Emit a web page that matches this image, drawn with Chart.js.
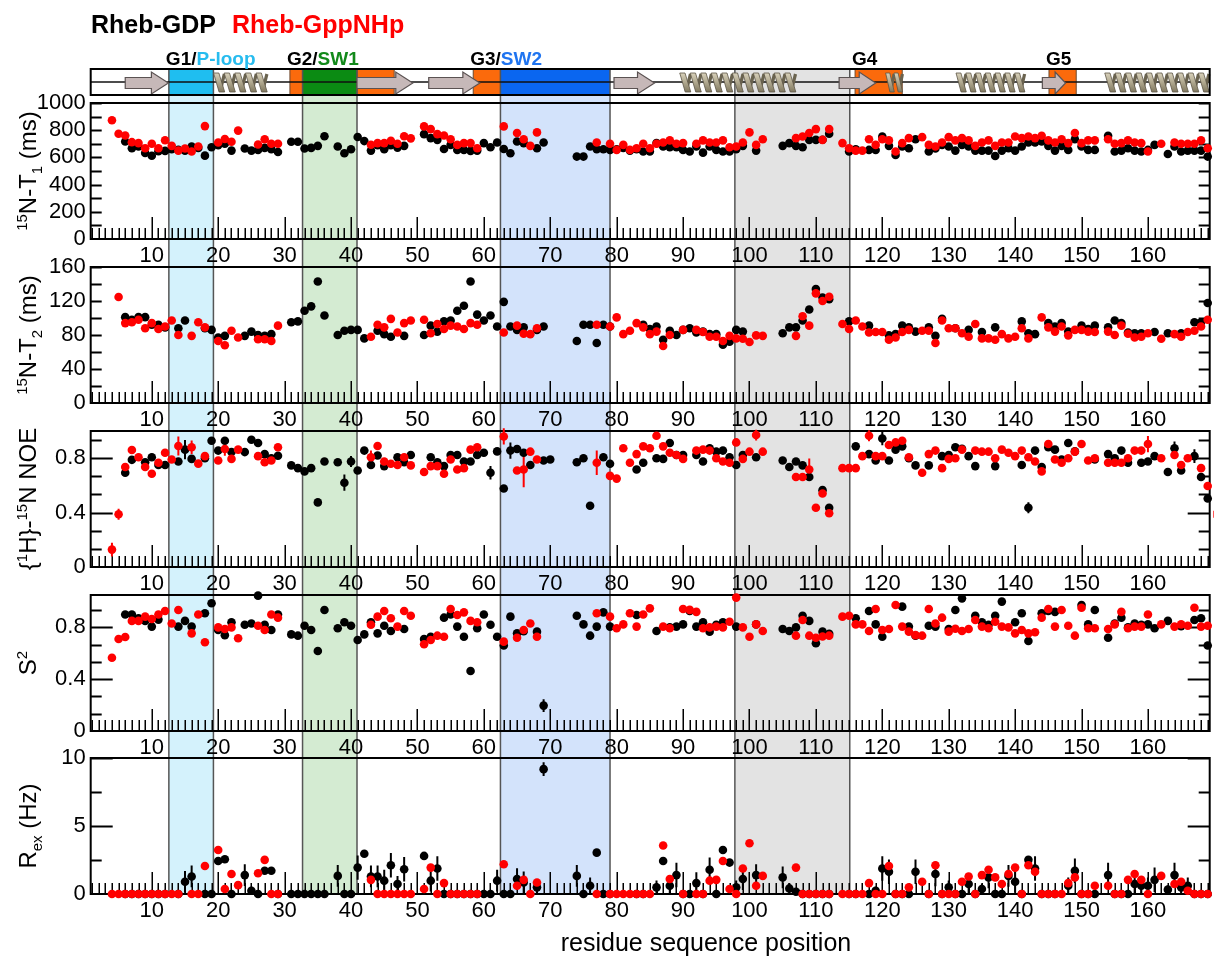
<!DOCTYPE html>
<html>
<head>
<meta charset="utf-8">
<title>Rheb backbone dynamics</title>
<script src="https://cdn.jsdelivr.net/npm/chart.js@4/dist/chart.umd.min.js"></script>
<style>
  html, body { margin:0; padding:0; background:#fff; }
  body { width:1214px; height:966px; position:relative; overflow:hidden;
         font-family:"Liberation Sans", Arial, Helvetica, sans-serif; color:#000; }
  canvas { position:absolute; left:0; }
  #bg { top:0; z-index:0; }
  .panel { z-index:1; }
  .txt { position:absolute; white-space:nowrap; z-index:2; }
  .legend { font-weight:bold; font-size:25px; line-height:25px; top:12px; }
  .ytitle { font-size:24px; line-height:24px; transform:translate(-50%,-50%) rotate(-90deg); }
  .ytitle sup, .ytitle sub { font-size:15px; line-height:0; }
  .glabel { font-weight:bold; font-size:19px; line-height:19px; top:49px; }
  .xtitle { font-size:25px; line-height:25px; transform:translateX(-50%); }
</style>
</head>
<body>
<canvas id="bg" width="1214" height="966"></canvas>
<div class="txt legend" style="left:91px">Rheb-GDP</div>
<div class="txt legend" style="left:232px;color:#ff0000">Rheb-GppNHp</div>
<div class="txt xtitle" style="left:706px;top:930px">residue sequence position</div>

<script>
const _ = null;

// values per residue, index 0 = residue 1
const T1_GDP = [
 _,_,_,_,_,717,667,680,632,612,
 645,648,660,655,650,680,670,613,675,690,
 700,650,_,665,650,655,670,660,640,_,
 715,715,665,670,685,755,_,680,630,660,
 750,720,650,690,660,690,672,685,_,_,
 771,742,729,662,692,655,655,648,650,705,
 675,710,662,630,717,705,_,667,710,_,
 _,_,_,606,606,680,660,660,655,660,
 670,650,660,643,643,705,680,675,675,655,
 643,680,635,680,655,643,643,660,685,_,
 650,_,_,_,685,705,685,675,729,729,
 730,774,_,_,643,660,_,655,655,754,
 685,618,680,667,734,_,643,665,692,680,
 650,692,680,650,650,650,610,650,667,650,
 680,710,710,717,685,650,685,655,734,680,
 655,655,_,759,643,650,667,650,643,655,
 692,_,625,680,643,650,650,650,606,_
];
const T1_GPP = [
 _,_,_,873,774,761,712,705,667,700,
 667,726,685,650,665,643,680,830,_,710,
 735,715,797,_,_,695,733,700,700,_,
 _,_,_,_,_,_,_,_,_,_,
 _,_,693,705,705,722,700,755,740,_,
 828,808,771,761,734,692,705,705,667,_,
 _,_,828,_,779,734,685,784,_,_,
 _,_,_,_,_,_,710,_,700,655,
 692,655,667,700,667,700,710,725,700,705,
 _,700,725,710,710,725,675,680,710,784,
 692,734,_,_,_,_,742,754,779,808,
 729,808,_,705,667,650,650,734,692,734,
 725,643,705,742,_,749,692,680,710,749,
 725,742,725,685,710,725,685,710,710,754,
 742,754,742,759,725,710,734,705,779,705,
 725,725,_,734,700,705,725,710,705,643,
 _,700,_,710,700,700,700,725,667,_
];
const T2_GDP = [
 _,_,_,_,_,101,98,101,101,92,
 92,89,_,88,97,_,_,88,86,77,
 79,_,_,79,84,80,79,81,_,_,
 95,96,108.6,113.7,143,103,_,80,85,86,
 86,76,_,85,81,78,_,79,_,_,
 80,91,84,96,97,108.6,114.5,143,104,97,
 103,90,119,90,86,89,_,86,90,_,
 _,_,_,73,92,92,70.6,92,90,_,
 _,_,_,92,87,90,74.5,85,80,86,
 88,83,84,81,81,68.6,72,86,84,_,
 _,_,_,_,82,89,89,97,110,134,
 124,122,_,_,96,_,_,91,_,_,
 79.6,81,91,89,84,_,89,79,99,_,
 88,_,86,_,83.5,_,89,_,_,_,
 96,82,81,_,94,90,94,84,_,91,
 87,91,_,89,97,94,83,82,82,_,
 83.5,_,82,_,82,_,95,95,117.6,_
];
const T2_GPP = [
 _,_,_,_,124.7,94,95,98,88,94,
 87,90,97,80,_,79,95,89,_,73,
 68,85,77,_,_,75,75,73,91,_,
 _,_,_,_,_,_,_,_,_,_,
 _,_,78,92,89,99,83,94,97,_,
 98,82,93,87,91,90,87,94,92,_,
 _,_,83,_,91,81.5,81,88,_,_,
 _,_,_,_,_,_,92,_,90,100.7,
 81,85,94,89,81,84,67,80,_,86,
 _,86,83.5,78,78,73,79,76,75.6,71.7,
 79.6,79,_,_,_,_,79,102,91,129,
 120,125,_,93,87,97,90,83,83.5,83.5,
 74.5,77,83.5,86,_,85,85,70.6,97,88,
 88,82,78,93,76,76,74.5,81,76,78,
 88,76,_,100.7,89,84,90,79.6,86,86,
 84,83.5,_,84,80,91,81.5,77,78,82,
 _,75.6,_,81,78,83.5,85,90,98,_
];
const NOE_GDP = [
 _,_,_,_,_,0.693,0.788,_,0.77,0.807,
 0.75,0.75,_,0.776,0.863,0.795,_,0.80,0.928,0.856,
 0.928,0.845,_,0.845,0.936,0.912,0.83,0.80,0.818,_,
 0.747,0.727,0.703,0.727,0.475,0.776,_,0.77,0.62,0.776,
 0.71,0.856,0.75,0.82,0.742,_,0.807,0.77,0.824,_,
 _,0.807,0.77,0.742,0.824,0.824,0.776,0.776,0.824,0.84,
 0.693,0.85,0.577,0.856,0.868,0.84,0.75,_,0.783,0.79,
 _,_,_,0.77,0.80,0.45,_,0.807,0.759,_,
 _,_,0.717,0.766,_,0.80,0.795,0.912,0.824,0.824,
 _,0.824,0.776,0.873,0.848,0.856,0.807,0.75,0.824,_,
 0.807,_,_,_,0.783,0.735,0.776,0.747,0.662,_,
 0.565,0.436,_,_,_,0.887,_,0.83,0.783,0.945,
 0.783,0.863,0.887,0.80,0.747,_,0.747,_,0.815,0.824,
 0.88,0.87,0.815,0.742,_,_,0.742,_,_,_,
 0.75,0.436,0.856,0.735,0.88,0.863,0.79,0.912,0.85,_,
 _,0.79,_,0.83,0.80,0.856,0.766,_,0.766,0.776,
 0.815,_,0.698,0.873,0.71,_,0.815,0.662,0.504,_
];
const NOE_GPP = [
 _,_,_,0.128,0.388,0.735,0.86,0.807,0.735,0.686,
 0.766,0.84,0.79,0.89,_,0.88,0.76,0.815,_,0.783,
 0.868,0.795,0.863,_,_,0.815,0.77,0.783,0.88,_,
 _,_,_,_,_,_,_,_,_,_,
 _,_,0.807,0.89,0.776,0.759,0.75,0.807,0.747,_,
 0.698,0.742,0.742,0.686,0.79,0.717,0.727,0.863,0.88,_,
 _,_,0.96,_,0.71,0.717,0.848,0.79,_,_,
 _,_,_,_,_,_,0.766,_,0.67,0.65,
 0.873,0.766,0.83,0.887,0.873,0.965,0.887,0.84,0.824,0.795,
 _,0.856,0.863,0.856,0.80,0.776,0.766,0.916,0.795,0.848,
 0.97,0.848,_,_,_,_,0.662,0.662,0.717,0.436,
 0.54,0.395,_,0.727,0.727,0.727,0.815,0.965,0.815,0.815,
 0.897,0.916,0.928,0.807,_,0.693,0.83,0.856,0.727,0.795,
 0.80,0.863,_,0.856,0.848,0.848,0.80,0.863,0.84,0.815,
 0.856,0.807,0.776,0.703,0.904,0.79,0.766,0.80,0.848,0.904,
 0.783,0.80,_,0.766,0.766,0.766,0.80,0.856,0.856,0.904,
 _,0.80,_,0.824,0.75,0.80,_,0.727,0.596,0.388
];
const S2_GDP = [
 _,_,_,_,_,0.9,0.9,0.87,0.85,0.806,
 0.86,_,_,0.806,0.85,0.806,_,0.909,0.986,0.78,
 0.74,0.84,_,0.82,0.83,1.045,0.82,0.78,0.9,_,
 0.746,0.736,0.813,0.78,0.618,0.934,_,0.793,0.84,0.813,
 0.703,0.746,0.84,0.754,0.813,0.772,_,0.788,_,_,
 0.71,0.728,_,0.875,0.9,0.806,0.728,0.463,0.793,0.9,
 0.82,0.728,0.66,0.883,0.754,0.77,_,0.767,0.196,_,
 _,_,_,0.89,0.823,0.736,0.806,0.916,0.806,_,
 _,_,0.896,_,_,0.772,_,0.8,0.806,0.823,
 0.927,0.806,0.84,0.767,0.82,0.84,_,0.806,_,_,
 0.823,_,_,_,0.788,0.772,0.8,0.89,0.85,0.677,
 0.767,0.75,_,_,_,0.87,_,0.927,0.823,0.728,
 _,_,0.96,0.806,0.736,_,0.813,0.806,_,0.788,
 0.934,1.024,_,0.89,0.84,0.82,0.89,0.999,_,0.84,
 0.909,0.695,_,0.909,0.927,0.92,_,_,_,0.973,
 0.823,0.934,_,0.72,0.83,0.875,0.8,0.83,0.82,0.823,
 0.793,_,0.85,_,0.81,_,0.857,0.87,0.66,_
];
const S2_GPP = [
 _,_,_,0.566,0.71,0.726,0.85,0.85,0.883,0.865,
 0.9,0.927,0.83,0.934,_,0.754,0.9,0.685,_,0.8,
 0.788,0.8,0.716,_,_,0.813,0.78,0.9,0.875,_,
 _,_,_,_,_,_,_,_,_,_,
 _,_,0.82,0.883,0.927,0.87,0.806,0.927,0.89,_,
 0.67,0.703,0.736,0.728,0.942,0.896,0.916,0.85,0.84,_,
 _,_,0.69,_,0.72,0.78,0.83,0.728,_,_,
 _,_,_,_,_,_,0.909,_,0.883,0.793,
 0.823,0.909,0.806,0.9,0.947,_,0.806,0.793,_,0.942,
 0.935,0.92,0.793,0.8,0.806,0.8,0.844,1.03,0.8,0.728,
 0.823,0.772,_,_,_,_,0.736,0.857,0.736,0.72,
 0.73,0.736,_,0.883,0.89,0.823,0.823,0.772,0.942,0.78,
 0.788,0.973,0.806,0.767,0.74,0.736,0.942,0.83,0.875,0.767,
 0.79,0.772,0.788,0.857,0.806,0.793,0.844,0.806,0.8,0.754,
 0.78,0.754,0.762,0.875,0.942,0.806,0.934,0.813,0.736,0.952,
 0.793,0.793,_,0.788,0.823,0.92,0.793,0.806,0.806,0.9,
 _,0.823,_,0.806,0.823,0.813,0.952,0.806,0.813,0.38
];
const REX_GDP = [
 _,_,_,_,_,0,0,0,0,0,
 0,0,_,0,0.9,1.29,_,0,0,2.43,
 2.55,0,_,1.39,0.24,0,1.71,1.71,0,_,
 0,0,0,0,0,0,_,1.33,0,0,
 1.94,2.96,1.29,1.29,0.98,2.11,0.73,1.82,_,_,
 2.8,0.98,1.88,0,0,0,0,0,0,0,
 0,0.98,0,0,1.1,0.85,_,0.49,9.18,_,
 _,_,_,1.33,0,0.61,3.04,0,0,_,
 _,_,0,0,_,0.49,2.43,0.61,1.39,0,
 0,0.8,0,1.78,0,3.24,2.31,0.49,1.1,_,
 1.39,_,_,_,1.22,0.41,0.17,0,0,0,
 0,0,_,_,0,0,_,0,0.24,1.88,
 1.63,0,0,0,1.63,_,0,1.47,0,0.49,
 0,0,0.73,0,0.37,1.22,0,0,1.33,0.9,
 0,2.51,1.88,0,0,0,_,0.61,1.71,0,
 0,0,_,1.39,0,0,0,0.73,0.61,0.61,
 1.04,_,0.32,1.39,0.49,0.61,0,0,0,_
];
const REX_GPP = [
 _,_,_,0,0,0,0,0,0,0,
 0,0,0,0,_,0,0,2.06,_,3.24,
 0.37,1.47,0.65,_,_,1.53,2.51,0,0,_,
 _,_,_,_,_,_,_,_,_,_,
 _,_,1.04,0,0,0,0,0,0,_,
 0.37,1.94,0,0.8,0,0,0,0,0,_,
 _,_,2.19,_,0.61,1.04,0,0.85,_,_,
 _,_,_,_,_,_,0,_,0,0,
 0,0,0,0,0,_,3.57,1.1,_,0,
 _,0,0,0.98,1.04,2.43,0.37,0,1.88,3.73,
 0.61,1.33,_,_,_,_,1.94,0,0,0,
 0,0,_,0,0,0,0,0.8,0,0,
 2.06,0,0,0.49,_,0.9,0,2.11,0,0,
 0,0.9,1.29,0,1.39,1.78,1.22,0.73,1.47,1.94,
 0,2.11,1.63,0,0,0,0,0.8,1.22,0,
 0,0.61,_,0.61,0,0,1.04,1.47,1.04,0,
 _,1.33,_,0.73,0.9,0.24,0,0,0,0
];

// uncertainties (residue -> half width); NOE carries a common small error
const NOE_ERR_COMMON = 0.025;
const NOE_ERR_GDP = {15:0.07, 39:0.06, 40:0.04, 61:0.05, 64:0.06, 120:0.05, 142:0.04, 164:0.05, 167:0.05};
const NOE_ERR_GPP = {4:0.05, 5:0.04, 14:0.07, 16:0.05, 21:0.05, 43:0.05, 63:0.06, 66:0.13, 77:0.09, 101:0.04, 109:0.08, 118:0.04, 160:0.06};
const S2_ERR_GDP = {58:0.03, 69:0.05};
const REX_ERR_GDP = {15:0.8,16:0.8,24:0.8,25:0.3,38:0.8,41:0.9,43:0.8,44:0.8,45:0.8,46:0.9,47:0.6,48:0.9,
  52:0.8,53:0.9,62:0.8,65:0.8,66:0.8,68:0.5,69:0.5,74:0.8,76:0.6,86:0.5,88:0.6,89:0.9,92:0.8,94:0.9,
  98:0.5,99:0.8,101:0.8,105:0.8,106:0.4,119:0.3,120:0.9,121:0.9,125:0.9,128:0.9,130:0.5,133:0.7,135:0.4,
  136:0.8,139:0.8,140:0.8,143:0.9,148:0.6,149:0.9,154:0.9,158:0.7,159:0.6,160:0.6,161:0.9,163:0.3,
  164:0.9,165:0.5,166:0.6};

// secondary structure and G-domain motifs (residue ranges)
const STRANDS = [[6.0,12.5],[40.9,49.3],[51.7,59.4],[79.6,85.7],[113.5,119.0],[144.1,147.6]];
const HELICES = [[19.3,27.3],[89.5,106.9],[120.5,123.0],[131.1,141.4],[153.5,169.7]];
const G_BOXES = [[30.8,32.7],[40.9,46.5],[58.4,62.5],[115.9,123.0],[145.1,149.2]];
const REGIONS = [[12.57,19.28],[32.7,40.9],[62.5,79.0],[97.8,115.1]];
const MOTIF_LABELS = [
  {anchor:['region',0], parts:[['G1/','#000'],['P-loop','#27bcef']]},
  {anchor:['box',0],    parts:[['G2/','#000'],['SW1','#12891a']]},
  {anchor:['box',2],    parts:[['G3/','#000'],['SW2','#1f74f0']]},
  {anchor:['box',3],    parts:[['G4','#000']]},
  {anchor:['box',4],    parts:[['G5','#000']]}
];

const X_RANGE = [0.8, 169.3];

// ---------- layout ----------
const FONT = '"Liberation Sans", Arial, Helvetica, sans-serif';
const PAGE_W = 1214;
const PANEL_TOPS = [103, 267, 431, 595, 758];
const PANEL_H = 136;
const PAD_TOP = 12, XAXIS_H = 32, AXIS_LEFT = 90.7, RIGHT_GAP = 4;
const STRIP_TOP = 69, STRIP_BOTTOM = 95, STRIP_MID = 82;

const panels = [
  {gdp:T1_GDP, gpp:T1_GPP, min:0, max:1000, major:200, minor:100, long:false,
   title:'<sup>15</sup>N-T<sub>1</sub> (ms)'},
  {gdp:T2_GDP, gpp:T2_GPP, min:0, max:160, major:40, minor:20, long:false,
   title:'<sup>15</sup>N-T<sub>2</sub> (ms)'},
  {gdp:NOE_GDP, gpp:NOE_GPP, min:0, max:1.0, major:0.4, minor:0.4/3, long:true,
   errGdp:NOE_ERR_GDP, errGpp:NOE_ERR_GPP, errCommon:NOE_ERR_COMMON,
   title:'{<sup>1</sup>H}-<sup>15</sup>N NOE'},
  {gdp:S2_GDP, gpp:S2_GPP, min:0, max:1.05, major:0.4, minor:0.4/3, long:true,
   errGdp:S2_ERR_GDP, title:'S<sup>2</sup>'},
  {gdp:REX_GDP, gpp:REX_GPP, min:0, max:10, major:5, minor:2.5, long:true,
   errGdp:REX_ERR_GDP, title:'R<sub>ex</sub> (Hz)'}
];

function toPoints(arr) {
  const pts = [];
  arr.forEach((v, i) => { if (v !== null) pts.push({x: i + 1, y: v}); });
  return pts;
}

// frame, inward ticks on left/right/bottom, and error bars
const panelDecor = {
  id: 'panelDecor',
  beforeDatasetsDraw(chart, args, opts) {
    const {ctx, chartArea: a, scales: {x, y}} = chart;
    const p = opts.panel;
    ctx.save();
    ctx.strokeStyle = '#000';
    ctx.lineCap = 'butt';
    // residue ticks along the bottom
    ctx.lineWidth = 1.5;
    ctx.beginPath();
    for (let r = Math.ceil(x.min); r <= x.max; r++) {
      const px = Math.round(x.getPixelForValue(r)) + 0.25;
      const len = (r % 10 === 0) ? 22 : 11;
      ctx.moveTo(px, a.bottom);
      ctx.lineTo(px, a.bottom - len);
    }
    ctx.stroke();
    // value ticks left and right
    const n = Math.round((p.max - p.min) / p.minor);
    ctx.lineWidth = 1.8;
    ctx.beginPath();
    for (let k = 1; k <= n; k++) {
      const v = p.min + k * p.minor;
      if (v > p.max + 1e-9) break;
      const isMajor = Math.abs(v / p.major - Math.round(v / p.major)) < 1e-6;
      const len = p.long ? (isMajor ? 22 : 11) : 11;
      const py = Math.round(y.getPixelForValue(v)) + 0.5;
      ctx.moveTo(a.left, py); ctx.lineTo(a.left + len, py);
      ctx.moveTo(a.right, py); ctx.lineTo(a.right - len, py);
    }
    ctx.stroke();
    // frame
    ctx.lineWidth = 2;
    ctx.strokeRect(a.left, a.top, a.right - a.left, a.bottom - a.top);
    // error bars
    chart.data.datasets.forEach(ds => {
      const errs = ds.errorMap || {};
      const common = ds.errorCommon || 0;
      ctx.strokeStyle = ds.backgroundColor;
      ctx.lineWidth = 2;
      ctx.beginPath();
      ds.data.forEach(pt => {
        const e = (errs[pt.x] !== undefined) ? errs[pt.x] : common;
        if (!e) return;
        const px = x.getPixelForValue(pt.x);
        ctx.moveTo(px, y.getPixelForValue(Math.max(p.min, pt.y - e)));
        ctx.lineTo(px, y.getPixelForValue(pt.y + e));
      });
      ctx.stroke();
    });
    ctx.restore();
  }
};

function fmt(v) { return String(Math.round(v * 1000) / 1000); }

const charts = panels.map((p, i) => {
  const cv = document.createElement('canvas');
  cv.className = 'panel';
  cv.width = PAGE_W;
  cv.height = PAD_TOP + PANEL_H + XAXIS_H;
  cv.style.top = (PANEL_TOPS[i] - PAD_TOP) + 'px';
  document.body.appendChild(cv);

  const title = document.createElement('div');
  title.className = 'txt ytitle';
  title.innerHTML = p.title;
  title.style.left = '28px';
  title.style.top = (PANEL_TOPS[i] + PANEL_H / 2) + 'px';
  document.body.appendChild(title);

  return new Chart(cv.getContext('2d'), {
    type: 'scatter',
    data: {
      datasets: [
        {label: 'Rheb-GDP', data: toPoints(p.gdp), backgroundColor: '#000000', borderColor: '#000000',
         pointRadius: 4.3, pointBorderWidth: 0, clip: false, order: 2,
         errorMap: p.errGdp, errorCommon: p.errCommon},
        {label: 'Rheb-GppNHp', data: toPoints(p.gpp), backgroundColor: '#ff0000', borderColor: '#ff0000',
         pointRadius: 4.3, pointBorderWidth: 0, clip: false, order: 1,
         errorMap: p.errGpp, errorCommon: p.errCommon}
      ]
    },
    options: {
      responsive: false, animation: false, devicePixelRatio: 1, events: [],
      layout: {padding: {top: PAD_TOP, right: RIGHT_GAP, left: 0, bottom: 0}},
      plugins: {legend: {display: false}, tooltip: {enabled: false}, panelDecor: {panel: p}},
      scales: {
        x: {
          type: 'linear', min: X_RANGE[0], max: X_RANGE[1],
          grid: {display: false, drawTicks: false}, border: {display: false},
          ticks: {stepSize: 10, includeBounds: false, autoSkip: false, maxRotation: 0, padding: 4,
                  color: '#000', font: {family: FONT, size: 22},
                  callback: v => (v % 10 === 0 && v >= 10 && v <= 160) ? String(v) : ''},
          afterFit: s => { s.height = XAXIS_H; s.paddingLeft = 0; s.paddingRight = 0; }
        },
        y: {
          type: 'linear', min: p.min, max: p.max,
          grid: {display: false, drawTicks: false}, border: {display: false},
          ticks: {stepSize: p.major, includeBounds: false, autoSkip: false, padding: 5, color: '#000',
                  font: {family: FONT, size: 22}, callback: v => fmt(v)},
          afterFit: s => { s.width = AXIS_LEFT; s.paddingTop = 0; s.paddingBottom = 0; }
        }
      }
    },
    plugins: [panelDecor]
  });
});

// ---------- shaded regions and topology strip ----------
(function drawBackground() {
  const ctx = document.getElementById('bg').getContext('2d');
  const xs = charts[0].scales.x;
  const area = charts[0].chartArea;
  const px = v => xs.getPixelForValue(v);
  const left = area.left, right = area.right;
  const bottom = PANEL_TOPS[4] + PANEL_H;
  const lightFill = ['#d4f2fc', '#d4ebd2', '#d3e3fb', '#e3e3e3'];
  const strongFill = ['#1fbef0', '#0b8b13', '#0a66f0', null];

  REGIONS.forEach((r, i) => {
    ctx.fillStyle = lightFill[i];
    ctx.fillRect(px(r[0]), STRIP_TOP, px(r[1]) - px(r[0]), bottom - STRIP_TOP);
  });
  REGIONS.forEach((r, i) => {
    if (!strongFill[i]) return;
    ctx.fillStyle = strongFill[i];
    ctx.fillRect(px(r[0]), STRIP_TOP, px(r[1]) - px(r[0]), STRIP_BOTTOM - STRIP_TOP);
  });
  G_BOXES.forEach(b => {
    ctx.fillStyle = '#fb6a0c';
    ctx.fillRect(px(b[0]), STRIP_TOP, px(b[1]) - px(b[0]), STRIP_BOTTOM - STRIP_TOP);
    ctx.strokeStyle = '#6b4a30';
    ctx.lineWidth = 1;
    ctx.strokeRect(px(b[0]), STRIP_TOP, px(b[1]) - px(b[0]), STRIP_BOTTOM - STRIP_TOP);
  });
  // region boundaries
  ctx.strokeStyle = '#555';
  ctx.lineWidth = 1.5;
  ctx.beginPath();
  REGIONS.forEach(r => {
    [r[0], r[1]].forEach(v => { const x = px(v); ctx.moveTo(x, STRIP_TOP); ctx.lineTo(x, bottom); });
  });
  ctx.stroke();
  // backbone line
  ctx.strokeStyle = '#111';
  ctx.lineWidth = 1.3;
  ctx.beginPath(); ctx.moveTo(left, STRIP_MID); ctx.lineTo(right, STRIP_MID); ctx.stroke();

  // helices drawn as coils
  HELICES.forEach(h => {
    const xa = px(h[0]), xb = Math.min(px(h[1]), right - 1);
    const top = 73, bot = 92;
    const n = Math.max(1, Math.round((xb - xa) / 10.5));
    const w = (xb - xa) / n;
    for (let i = 0; i < n; i++) {
      const x0 = xa + i * w;
      // back strand
      ctx.strokeStyle = '#6a634f';
      ctx.lineWidth = 3.2;
      ctx.beginPath(); ctx.moveTo(x0 + w * 0.62, bot - 1); ctx.lineTo(x0 + w * 1.02, top + 1); ctx.stroke();
      // front ribbon
      const g = ctx.createLinearGradient(0, top, 0, bot);
      g.addColorStop(0, '#d8d1bb'); g.addColorStop(0.45, '#b4ac93'); g.addColorStop(1, '#80785f');
      ctx.fillStyle = g;
      ctx.beginPath();
      ctx.moveTo(x0, top); ctx.lineTo(x0 + w * 0.5, top);
      ctx.lineTo(x0 + w * 1.05, bot); ctx.lineTo(x0 + w * 0.52, bot);
      ctx.closePath();
      ctx.fill();
      ctx.strokeStyle = '#5d5646'; ctx.lineWidth = 0.8; ctx.stroke();
    }
  });
  // strands drawn as arrows
  STRANDS.forEach(s => {
    const xa = px(s[0]), xb = px(s[1]);
    const cy = 83, bh = 5.5, hh = 11, hl = Math.min(17, (xb - xa) * 0.45);
    ctx.beginPath();
    ctx.moveTo(xa, cy - bh); ctx.lineTo(xb - hl, cy - bh); ctx.lineTo(xb - hl, cy - hh);
    ctx.lineTo(xb, cy); ctx.lineTo(xb - hl, cy + hh); ctx.lineTo(xb - hl, cy + bh);
    ctx.lineTo(xa, cy + bh); ctx.closePath();
    ctx.fillStyle = '#c6b8b8'; ctx.fill();
    ctx.strokeStyle = '#5a5252'; ctx.lineWidth = 1.2; ctx.stroke();
  });
  // strip frame
  ctx.strokeStyle = '#000';
  ctx.lineWidth = 2;
  ctx.strokeRect(left, STRIP_TOP, right - left, STRIP_BOTTOM - STRIP_TOP);

  // motif labels
  MOTIF_LABELS.forEach(m => {
    const at = m.anchor[0] === 'region' ? REGIONS[m.anchor[1]][0] : G_BOXES[m.anchor[1]][0];
    const d = document.createElement('div');
    d.className = 'txt glabel';
    d.style.left = (px(at) - 3) + 'px';
    d.innerHTML = m.parts.map(p => '<span style="color:' + p[1] + '">' + p[0] + '</span>').join('');
    document.body.appendChild(d);
  });
})();
</script>
</body>
</html>
